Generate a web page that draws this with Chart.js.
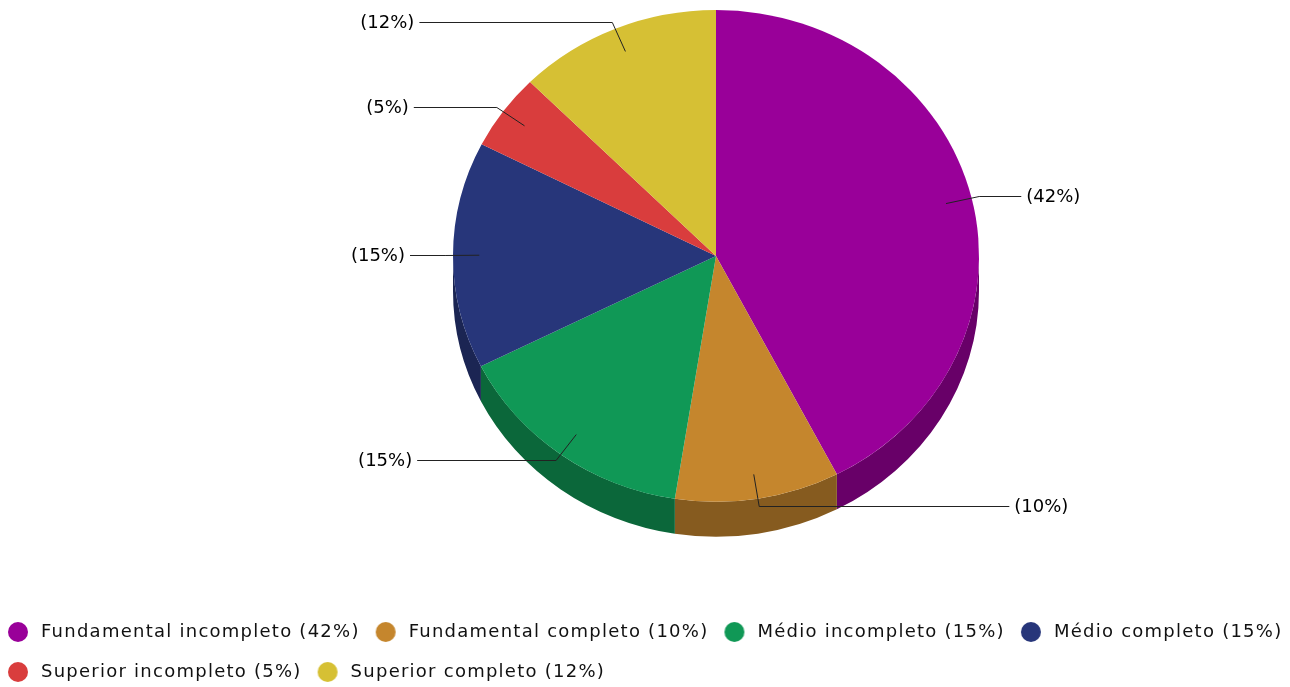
<!DOCTYPE html>
<html>
<head>
<meta charset="utf-8">
<script src="https://cdn.jsdelivr.net/npm/chart.js@4.4.1/dist/chart.umd.min.js"></script>
<style>
  html, body { margin: 0; padding: 0; background: #fff; }
  #wrap { width: 1290px; height: 687px; }
</style>
</head>
<body>
<div id="wrap"><canvas id="pieChart"></canvas></div>
<script>
const categories = ['Fundamental incompleto', 'Fundamental completo', 'Médio incompleto', 'Médio completo', 'Superior incompleto', 'Superior completo'];
const shares = [42.4, 10.1, 15.1, 14.9, 5.0, 12.5];
const percentLabels = [42, 10, 15, 15, 5, 12];
const sliceColors = ['#990099', '#C5862D', '#109856', '#27367A', '#D93D3D', '#D6C034'];

// placement of the tilted pie
const pieLayout = { centerX: 716, top: 10, radius: 263, squash: 0.935, depth: 35 };
const fontFamily = "'DejaVu Sans', sans-serif";

function darken(hex, f) {
    const n = parseInt(hex.slice(1), 16);
    const r = Math.round(((n >> 16) & 255) * f);
    const g = Math.round(((n >> 8) & 255) * f);
    const b = Math.round((n & 255) * f);
    return `rgb(${r}, ${g}, ${b})`;
}

// legend dot: drawn a bit left of the box centre so the text sits further away
function legendDot(color) {
    const c = document.createElement('canvas');
    c.width = 40;
    c.height = 22;
    const g = c.getContext('2d');
    g.fillStyle = color;
    g.beginPath();
    g.arc(15, 11, 10, 0, Math.PI * 2);
    g.fill();
    return c;
}

function pieGeometry(chart) {
    const arcs = chart.getDatasetMeta(0).data;
    const rx = arcs[0].outerRadius;
    const ry = rx * pieLayout.squash;
    return { arcs, cx: pieLayout.centerX, cy: pieLayout.top + ry, rx, ry };
}

const pie3d = {
    id: 'pie3d',
    beforeLayout(chart) { chart.ctx.letterSpacing = '1.25px'; },
    beforeDraw(chart) { chart.ctx.letterSpacing = '1.25px'; },
    beforeDatasetsDraw(chart) {
        const ctx = chart.ctx;
        const { arcs, cx, cy, rx, ry } = pieGeometry(chart);
        ctx.save();
        // side walls, front half only
        arcs.forEach((arc, i) => {
            const s = Math.max(arc.startAngle, 0);
            const e = Math.min(arc.endAngle, Math.PI);
            if (e <= s) return;
            ctx.beginPath();
            ctx.ellipse(cx, cy, rx, ry, 0, s, e, false);
            ctx.ellipse(cx, cy + pieLayout.depth, rx, ry, 0, e, s, true);
            ctx.closePath();
            ctx.fillStyle = darken(sliceColors[i], 0.68);
            ctx.fill();
        });
        // squash the top face into an ellipse
        ctx.translate(cx, cy);
        ctx.scale(1, pieLayout.squash);
        ctx.translate(-arcs[0].x, -arcs[0].y);
    },
    afterDatasetsDraw(chart) {
        const ctx = chart.ctx;
        ctx.restore();
        const { arcs, cx, cy, rx, ry } = pieGeometry(chart);
        ctx.save();
        ctx.letterSpacing = '0px';
        ctx.font = '18px ' + fontFamily;
        ctx.textBaseline = 'middle';
        ctx.fillStyle = '#000';
        ctx.strokeStyle = '#222';
        ctx.lineWidth = 1;
        arcs.forEach((arc, i) => {
            const mid = (arc.startAngle + arc.endAngle) / 2;
            const c = Math.cos(mid), s = Math.sin(mid);
            const x0 = cx + 0.9 * rx * c, y0 = cy + 0.9 * ry * s;
            const x1 = cx + 1.03 * rx * c, y1 = Math.round(cy + 1.03 * ry * s) + 0.5;
            const right = c > 0.001;
            const textX = right ? cx + rx + 48 - 13 * s * s : cx - rx - 48 + 11 * s * s;
            const lineEnd = right ? textX - 5 : textX + 5;
            ctx.beginPath();
            ctx.moveTo(x0, y0);
            ctx.lineTo(x1, y1);
            ctx.lineTo(lineEnd, y1);
            ctx.stroke();
            ctx.textAlign = right ? 'left' : 'right';
            ctx.fillText(`(${percentLabels[i]}%)`, textX, y1 + 1);
        });
        ctx.restore();
    }
};

const ctxPie = document.getElementById('pieChart').getContext('2d');
const pieChart = new Chart(ctxPie, {
    type: 'pie',
    data: {
        labels: categories.map((c, i) => `${c} (${percentLabels[i]}%)`),
        datasets: [{
            data: shares,
            backgroundColor: sliceColors,
            borderWidth: 0,
            radius: pieLayout.radius,
            clip: false
        }]
    },
    options: {
        responsive: true,
        maintainAspectRatio: false,
        animation: false,
        layout: {
            padding: { top: 10, left: -8, right: -24, bottom: -4 }
        },
        plugins: {
            tooltip: { enabled: false },
            legend: {
                position: 'bottom',
                align: 'start',
                labels: {
                    usePointStyle: true,
                    boxWidth: 18,
                    boxHeight: 13,
                    padding: 22,
                    color: '#111',
                    font: { family: fontFamily, size: 18 },
                    generateLabels(chart) {
                        return chart.data.labels.map((text, i) => ({
                            text,
                            fillStyle: sliceColors[i],
                            strokeStyle: sliceColors[i],
                            lineWidth: 0,
                            fontColor: '#111',
                            pointStyle: legendDot(sliceColors[i]),
                            hidden: false,
                            index: i
                        }));
                    }
                }
            }
        }
    },
    plugins: [pie3d]
});
</script>
</body>
</html>
